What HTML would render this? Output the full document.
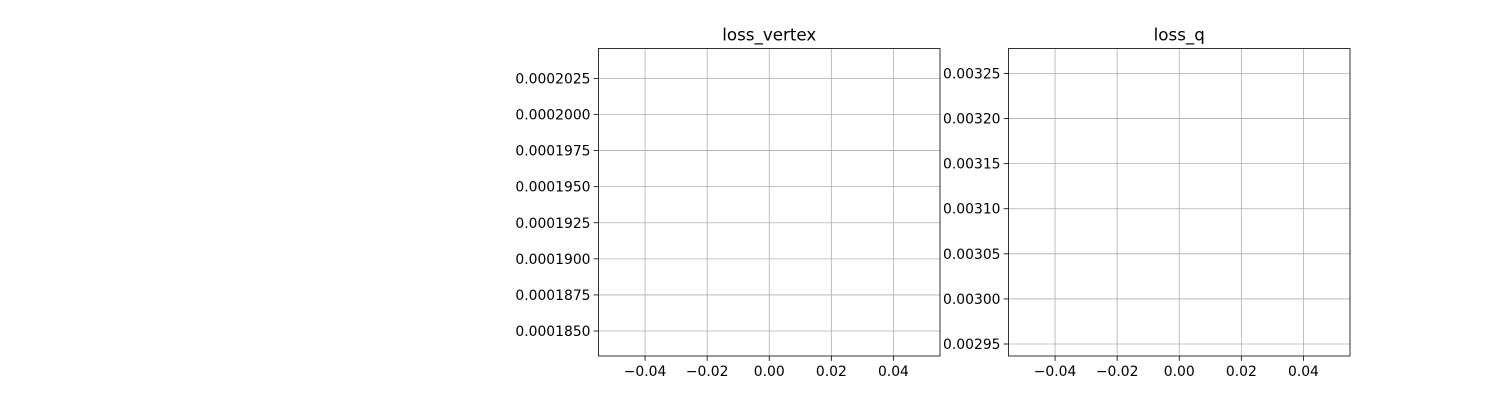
<!DOCTYPE html>
<html><head><meta charset="utf-8"><style>
html,body{margin:0;padding:0;background:#fff;}
svg{display:block;font-family:"DejaVu Sans","Liberation Sans",sans-serif;}
</style></head><body>
<svg id="fig" width="1500" height="400" viewBox="0 0 1500 400"></svg>
<script>
const xTicks = [-0.04, -0.02, 0.00, 0.02, 0.04];
const xTickLabels = ["\u22120.04", "\u22120.02", "0.00", "0.02", "0.04"];
const xDomain = [-0.055, 0.055];
const vertexTicks = [0.0001850, 0.0001875, 0.0001900, 0.0001925, 0.0001950, 0.0001975, 0.0002000, 0.0002025];
const vertexTickLabels = ["0.0001850","0.0001875","0.0001900","0.0001925","0.0001950","0.0001975","0.0002000","0.0002025"];
const vertexDomain = [0.00018327, 0.00020457];
const qTicks = [0.00295, 0.00300, 0.00305, 0.00310, 0.00315, 0.00320, 0.00325];
const qTickLabels = ["0.00295","0.00300","0.00305","0.00310","0.00315","0.00320","0.00325"];
const qDomain = [0.0029367, 0.0032777];

const NS = "http://www.w3.org/2000/svg";
const svg = document.getElementById('fig');
function mk(tag, attrs, parent){
  const e = document.createElementNS(NS, tag);
  for (const k in attrs) e.setAttribute(k, attrs[k]);
  parent.appendChild(e); return e;
}
function panel(name, title, left, top, w, h, yTicks, yLabels, yDom){
  const g = mk('g', {}, svg);
  
  
  const xs = v => left + (v - xDomain[0]) / (xDomain[1] - xDomain[0]) * w;
  const ys = v => top + h - (v - yDom[0]) / (yDom[1] - yDom[0]) * h;
  xTicks.forEach((t, i) => {
    const x = xs(t);
    const gl = mk('line', {x1:x, x2:x, y1:top, y2:top+h, stroke:'#b0b0b0', 'stroke-width':0.8}, g);
    
    
    mk('line', {x1:x, x2:x, y1:top+h, y2:top+h+4.9, stroke:'#000', 'stroke-width':0.8}, g);
    const tx = mk('text', {x:x, y:top+h+20, 'text-anchor':'middle', 'font-size':'13.9px', fill:'#000'}, g);
    tx.textContent = xTickLabels[i];
    
    
  });
  yTicks.forEach((t, i) => {
    const y = ys(t);
    const gl = mk('line', {x1:left, x2:left+w, y1:y, y2:y, stroke:'#b0b0b0', 'stroke-width':0.8}, g);
    
    
    mk('line', {x1:left-4.9, x2:left, y1:y, y2:y, stroke:'#000', 'stroke-width':0.8}, g);
    const tx = mk('text', {x:left-8, y:y+5, 'text-anchor':'end', 'font-size':'13.9px', fill:'#000'}, g);
    tx.textContent = yLabels[i];
    
    
  });
  const fr = mk('rect', {x:left, y:top, width:w, height:h, fill:'none', stroke:'#000', 'stroke-width':0.8}, g);
  
  
  const tt = mk('text', {x:left+w/2, y:top-8, 'text-anchor':'middle', 'font-size':'16.7px', fill:'#000'}, g);
  tt.textContent = title;
  
  
}
panel('loss-vertex', 'loss_vertex', 598.5, 48.5, 341.5, 307.5, vertexTicks, vertexTickLabels, vertexDomain);
panel('loss-q', 'loss_q', 1008.5, 48.5, 341.5, 307.5, qTicks, qTickLabels, qDomain);
</script>
</body></html>
